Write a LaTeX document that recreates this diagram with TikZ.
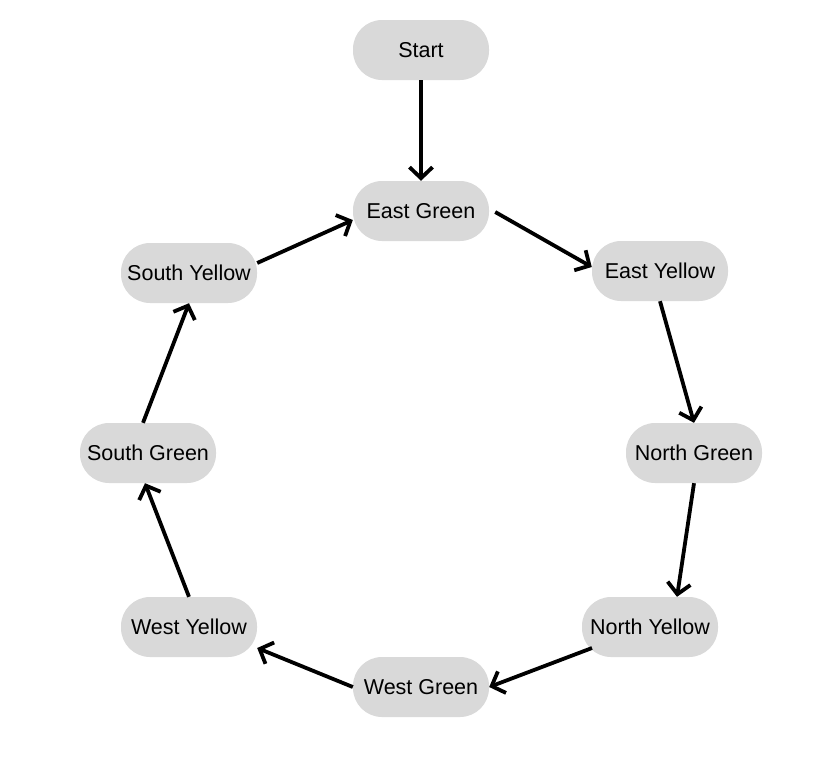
\documentclass[tikz,border=0pt]{standalone}
\usepackage{fontspec}
\setmainfont{Liberation Sans}
\usetikzlibrary{arrows.meta}

\begin{document}
\begin{tikzpicture}[
    x=1pt,
    y=-1pt,
    state/.style={
        fill=black!15,
        rounded corners=29pt,
        minimum width=136pt,
        minimum height=60pt,
        font=\fontsize{21.5}{25}\selectfont
    },
    transition/.style={
        draw,
        line width=3.8pt,
        -{Straight Barb[length=11pt,width=23pt,line width=3.8pt]}
    },
    ]
    \useasboundingbox (0,0) rectangle (834,782);
    \node [state] (start) at (421,50) {Start};
    \node [state] (eg) at (421,211) {East Green};
    \node [state] (ey) at (660,271) {East Yellow};
    \node [state] (ng) at (694,453) {North Green};
    \node [state] (ny) at (650,627) {North Yellow};
    \node [state] (wg) at (421,687) {West Green};
    \node [state] (wy) at (189,627) {West Yellow};
    \node [state] (sg) at (148,453) {South Green};
    \node [state] (sy) at (189,273) {South Yellow};
    % cycle
    \draw [transition] (start.south) -- (eg.north);
    \draw [transition] ([xshift=6pt,yshift=-1pt]eg.east) -- ([yshift=4pt]ey.west);
    \draw [transition] (ey.south) -- (ng.north);
    \draw [transition] (ng.south) -- ([xshift=27pt]ny.north);
    \draw [transition] ([xshift=-58pt,yshift=-21pt]ny.center) -- (wg.east);
    \draw [transition] (wg.west) -- ([yshift=-21pt]wy.east);
    \draw [transition] (wy.north) -- ([xshift=-3pt]sg.south);
    \draw [transition] ([xshift=-5pt]sg.north) -- (sy.south);
    \draw [transition] ([yshift=10pt]sy.east) -- ([yshift=-9pt]eg.west);
\end{tikzpicture}
\end{document}
